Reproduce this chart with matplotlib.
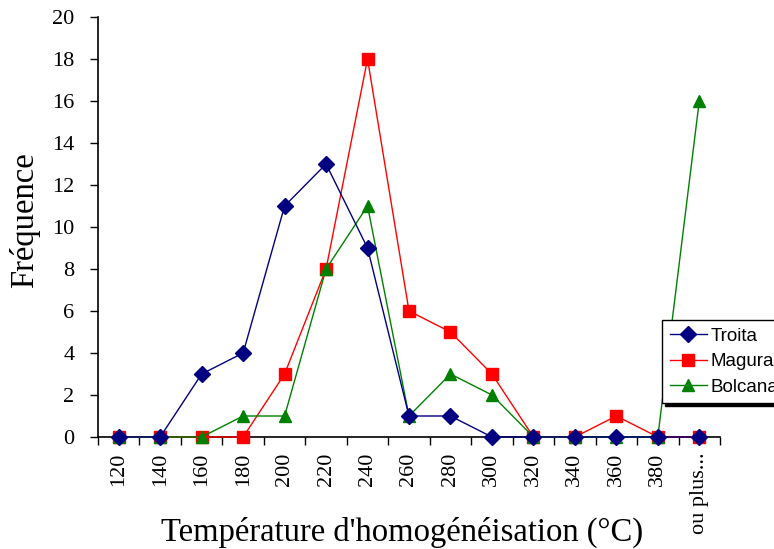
import matplotlib
matplotlib.use("Agg")
import matplotlib.pyplot as plt

categories = ["120", "140", "160", "180", "200", "220", "240", "260", "280",
              "300", "320", "340", "360", "380", "ou plus..."]
troita = [0, 0, 3, 4, 11, 13, 9, 1, 1, 0, 0, 0, 0, 0, 0]
magura = [0, 0, 0, 0, 3, 8, 18, 6, 5, 3, 0, 0, 1, 0, 0]
bolcana = [0, 0, 0, 1, 1, 8, 11, 1, 3, 2, 0, 0, 0, 0, 16]

fig = plt.figure(figsize=(7.74, 5.49), dpi=100)
ax = fig.add_axes([98/774, 1-437/549, (720-98)/774, (437-17)/549])

x = list(range(len(categories)))
l1, = ax.plot(x, troita, color="#000080", marker="D", markersize=8, lw=1.0,
              label="Troita", zorder=5, clip_on=False)
l2, = ax.plot(x, magura, color="#FF0000", marker="s", markersize=8.5, lw=1.0,
              label="Magura", zorder=3, clip_on=False)
l3, = ax.plot(x, bolcana, color="#008000", marker="^", markersize=9, lw=1.0,
              label="Bolcana", zorder=4, clip_on=False)

ax.set_xlim(-0.5, len(categories) - 0.5)
ax.set_ylim(0, 20)
ax.set_yticks(range(0, 21, 2))
ax.set_xticks(x)
ax.set_xticklabels(categories, rotation=90, fontsize=16, family="Liberation Serif")
ax.set_xticks([i - 0.5 for i in range(len(categories) + 1)], minor=True)
ax.tick_params(axis="x", which="major", length=0, pad=11)
ax.tick_params(axis="x", which="minor", length=6, direction="out", width=1)
ax.tick_params(axis="y", length=6, direction="out", width=1, labelsize=16, pad=11)
for lab in ax.get_yticklabels():
    lab.set_family("Liberation Serif")
for s in ["top", "right"]:
    ax.spines[s].set_visible(False)
ax.spines["left"].set_linewidth(1.2)
ax.spines["bottom"].set_linewidth(1.2)

fig.text(25/774, 1-220/549, "Fréquence", fontsize=23.5, rotation=90,
         family="Liberation Serif", ha="center", va="center")
fig.text(402/774, 1-532/549, "Température d'homogénéisation (°C)", fontsize=23.5,
         family="Liberation Serif", ha="center", va="center")

leg = fig.legend(handles=[l1, l2, l3], loc="upper left",
                 bbox_to_anchor=(662/774, 1-320/549),
                 prop={"family": "Liberation Sans", "size": 13.5},
                 frameon=True, fancybox=False, edgecolor="black",
                 borderpad=0.4, labelspacing=0.45, handlelength=2.0,
                 handletextpad=0.2, borderaxespad=0,
                 shadow={"color": "black", "alpha": 1})
leg.get_frame().set_linewidth(1.0)

fig.savefig("out.png", dpi=100)
